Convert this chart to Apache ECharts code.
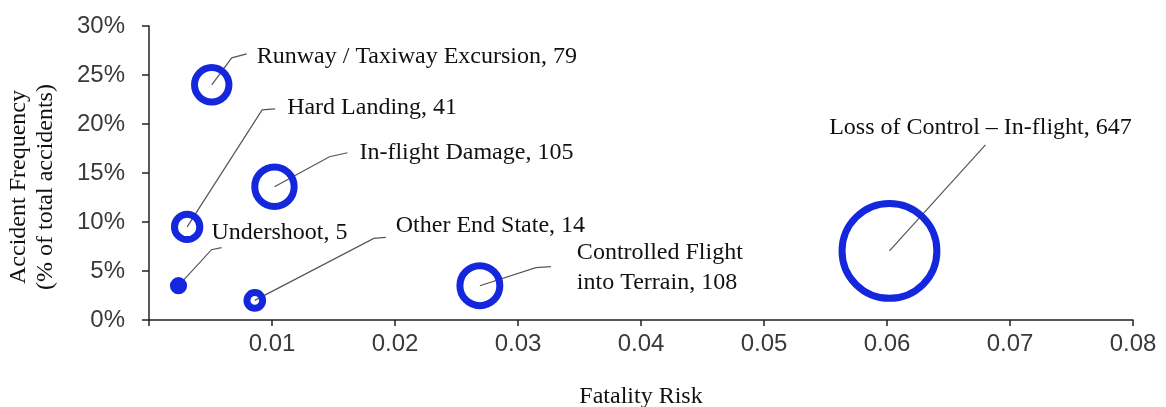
<!DOCTYPE html>
<html>
<head>
<meta charset="utf-8">
<script src="https://cdn.jsdelivr.net/npm/echarts@6/dist/echarts.min.js"></script>
<style>
  html, body { margin: 0; padding: 0; background: #fff; }
  #chart { width: 1166px; height: 407px; }
</style>
</head>
<body>
<div id="chart"></div>
<script>
// accident categories (end state)
var categories = [
  'Runway / Taxiway Excursion',
  'Hard Landing',
  'In-flight Damage',
  'Undershoot',
  'Other End State',
  'Controlled Flight\ninto Terrain',
  'Loss of Control – In-flight'
]
// fatality risk (x)
var fatalityRisk = [0.0051, 0.0031, 0.0102, 0.0024, 0.0086, 0.0269, 0.0602]
// accident frequency, % of total accidents (y)
var accidentFreq = [24.0, 9.5, 13.6, 3.5, 2.0, 3.5, 7.05]
// number of fatal accidents (bubble size)
var accidentCount = [79, 41, 105, 5, 14, 108, 647]
var xTicks = ['', '0.01', '0.02', '0.03', '0.04', '0.05', '0.06', '0.07', '0.08']

// leader line bends, relative to bubble centre (px)
var leaderPts = [
  [[20, -27], [35, -31]],
  [[75, -117], [88, -118]],
  [[55, -30], [73, -34]],
  [[33, -36], [43, -38]],
  [[119, -62], [131, -63]],
  [[56, -18], [71, -19]],
  [[96, -106]]
]
// label anchor, relative to bubble centre (px)
var labelPos = [
  [45, -28, 'left'],
  [100, -119, 'left'],
  [85, -34, 'left'],
  [33, -53, 'left'],
  [141, -75, 'left'],
  [97, -18, 'left'],
  [91, -123, 'center']
]

var chart = echarts.init(document.getElementById('chart'))

var points = categories.map(function (c, i) {
  return [fatalityRisk[i], accidentFreq[i], accidentCount[i], i]
})

var axisColor = '#222'
var bubbleColor = '#1527dd'
var serif = '"Liberation Serif", "Times New Roman", serif'

chart.setOption({
  animation: false,
  grid: { left: 149, right: 33, top: 26, bottom: 87, outerBoundsMode: 'none', containLabel: false },
  xAxis: {
    type: 'value',
    min: 0,
    max: 0.08,
    interval: 0.01,
    splitLine: { show: false },
    axisLine: { lineStyle: { color: axisColor, width: 1.5 } },
    axisTick: { length: 6, lineStyle: { color: axisColor, width: 1.5 } },
    axisLabel: {
      margin: 12,
      fontSize: 24,
      fontFamily: '"Liberation Sans", Arial, sans-serif',
      color: '#3a3a3a',
      formatter: function (v) { return xTicks[Math.round(v * 100)] }
    },
    name: 'Fatality Risk',
    nameLocation: 'middle',
    nameGap: 65,
    nameTextStyle: { fontFamily: serif, fontSize: 24, color: '#111' }
  },
  yAxis: {
    type: 'value',
    min: 0,
    max: 30,
    interval: 5,
    splitLine: { show: false },
    axisLine: { lineStyle: { color: axisColor, width: 1.5 } },
    axisTick: { length: 7, lineStyle: { color: axisColor, width: 1.5 } },
    axisLabel: {
      margin: 24,
      fontSize: 24,
      fontFamily: '"Liberation Sans", Arial, sans-serif',
      color: '#3a3a3a',
      formatter: '{value}%'
    },
    name: 'Accident Frequency\n(% of total accidents)',
    nameLocation: 'middle',
    nameGap: 90,
    nameTextStyle: {
      fontFamily: serif,
      fontSize: 24,
      lineHeight: 27,
      color: '#111',
      padding: [0, 28, 0, 0]
    }
  },
  series: [
    {
      type: 'scatter',
      data: points,
      symbol: 'circle',
      symbolSize: function (v) { return 3.65 * Math.sqrt(v[2]) + 2 },
      itemStyle: {
        // very small rings close up into a solid dot
        color: function (p) { return p.value[2] < 10 ? bubbleColor : 'rgba(255,255,255,0)' },
        borderColor: bubbleColor,
        borderWidth: 7,
        opacity: 1
      },
      emphasis: { disabled: true },
      silent: true
    },
    {
      type: 'custom',
      data: points,
      silent: true,
      renderItem: function (params, api) {
        var i = params.dataIndex
        var c = api.coord([api.value(0), api.value(1)])
        var pts = [c].concat(leaderPts[i].map(function (p) {
          return [c[0] + p[0], c[1] + p[1]]
        }))
        var lp = labelPos[i]
        return {
          type: 'group',
          children: [
            {
              type: 'polyline',
              shape: { points: pts },
              style: { stroke: '#555', lineWidth: 1.2, fill: null }
            },
            {
              type: 'text',
              x: c[0] + lp[0],
              y: c[1] + lp[1],
              style: {
                text: categories[i] + ', ' + accidentCount[i],
                font: '24px ' + serif,
                fill: '#111',
                align: lp[2],
                verticalAlign: 'middle',
                lineHeight: 30
              }
            }
          ]
        }
      }
    }
  ]
})
</script>
</body>
</html>
